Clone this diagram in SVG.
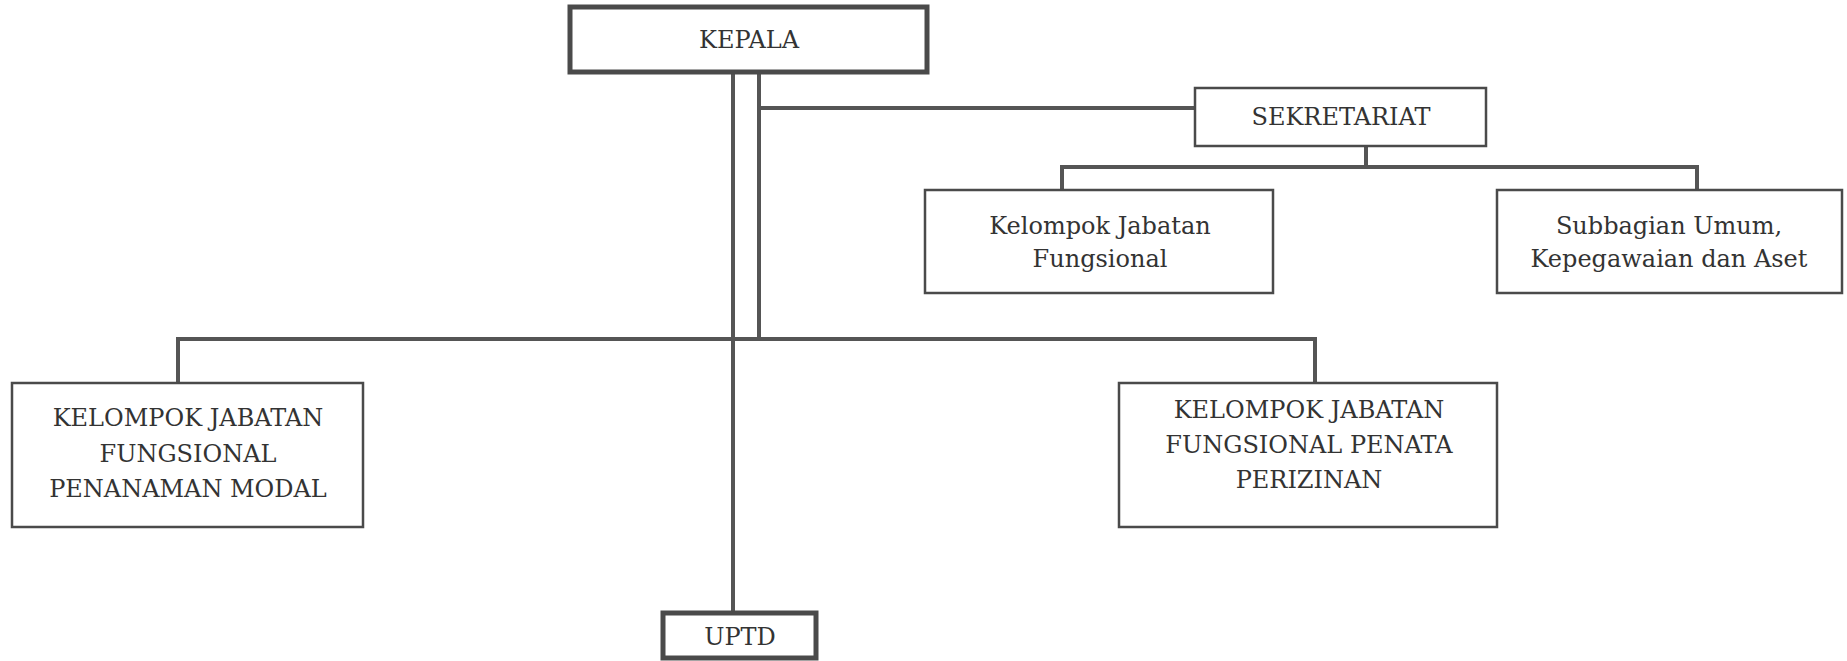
<svg xmlns="http://www.w3.org/2000/svg" width="1847" height="661" viewBox="0 0 1847 661">
<style>
.box{fill:#fff;stroke:#4a4a4a;stroke-width:2.5}
.thick{stroke-width:5}
.conn{fill:none;stroke:#555;stroke-width:4}
text{font-family:"DejaVu Serif","Liberation Serif",serif;font-size:24px;fill:#333;text-anchor:middle}
</style>
<rect width="1847" height="661" fill="#fff"/>
<g id="connectors">
<path class="conn" d="M733 72 V613"/>
<path class="conn" d="M759 72 V339"/>
<path class="conn" d="M759 108 H1195"/>
<path class="conn" d="M1366 146 V167"/>
<path class="conn" d="M1062 190 V167 H1697 V190"/>
<path class="conn" d="M178 383 V339 H1315 V383"/>
</g>
<g id="kepala">
<rect class="box thick" x="570" y="7" width="357" height="65"/>
<text x="749" y="48">KEPALA</text>
</g>
<g id="sekretariat">
<rect class="box" x="1195" y="88" width="291" height="58"/>
<text x="1341" y="125">SEKRETARIAT</text>
</g>
<g id="kelompok-jabatan-fungsional">
<rect class="box" x="925" y="190" width="348" height="103"/>
<text x="1100" y="234">Kelompok Jabatan</text>
<text x="1100" y="267">Fungsional</text>
</g>
<g id="subbagian">
<rect class="box" x="1497" y="190" width="345" height="103"/>
<text x="1669" y="234">Subbagian Umum,</text>
<text x="1669" y="267">Kepegawaian dan Aset</text>
</g>
<g id="jf-penanaman-modal">
<rect class="box" x="12" y="383" width="351" height="144"/>
<text x="188" y="426">KELOMPOK JABATAN</text>
<text x="188" y="462">FUNGSIONAL</text>
<text x="188" y="497">PENANAMAN MODAL</text>
</g>
<g id="jf-penata-perizinan">
<rect class="box" x="1119" y="383" width="378" height="144"/>
<text x="1309" y="418">KELOMPOK JABATAN</text>
<text x="1309" y="453">FUNGSIONAL PENATA</text>
<text x="1309" y="488">PERIZINAN</text>
</g>
<g id="uptd">
<rect class="box thick" x="663" y="613" width="153" height="45"/>
<text x="740" y="645">UPTD</text>
</g>
</svg>
